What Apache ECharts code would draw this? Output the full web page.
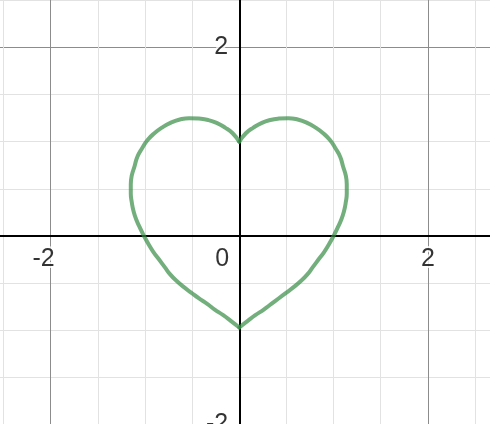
<!DOCTYPE html>
<html>
<head>
<meta charset="utf-8">
<script src="https://cdn.jsdelivr.net/npm/echarts@6/dist/echarts.min.js"></script>
<style>
html,body{margin:0;padding:0;background:#fff;}
#chart{width:490px;height:424px;}
</style>
</head>
<body>
<div id="chart"></div>
<script>
// Heart curve: right half (top cusp -> bottom cusp)
var rightX = [0, 0.07, 0.15, 0.24, 0.33, 0.42, 0.52, 0.62, 0.72, 0.81, 0.89, 0.96, 1.02, 1.07, 1.10, 1.13, 1.14, 1.14, 1.13, 1.11, 1.08, 1.04, 1.00, 0.95, 0.90, 0.84, 0.78, 0.72, 0.65, 0.58, 0.50, 0.42, 0.34, 0.26, 0.17, 0.09, 0];
var rightY = [1.00, 1.09, 1.15, 1.20, 1.23, 1.245, 1.25, 1.235, 1.20, 1.15, 1.09, 1.02, 0.93, 0.84, 0.74, 0.64, 0.55, 0.45, 0.36, 0.26, 0.17, 0.08, 0.00, -0.09, -0.17, -0.25, -0.33, -0.41, -0.48, -0.54, -0.60, -0.66, -0.72, -0.78, -0.84, -0.90, -0.97];
// left half (top cusp -> bottom cusp)
var leftX = [0, -0.07, -0.15, -0.24, -0.33, -0.43, -0.53, -0.63, -0.73, -0.82, -0.90, -0.97, -1.03, -1.08, -1.11, -1.14, -1.15, -1.15, -1.14, -1.12, -1.09, -1.05, -1.01, -0.96, -0.91, -0.85, -0.79, -0.73, -0.66, -0.59, -0.51, -0.43, -0.34, -0.26, -0.17, -0.09, 0];
var leftY = [1.00, 1.09, 1.15, 1.20, 1.23, 1.245, 1.25, 1.235, 1.20, 1.15, 1.09, 1.02, 0.93, 0.84, 0.74, 0.64, 0.55, 0.45, 0.36, 0.26, 0.17, 0.08, 0.00, -0.09, -0.17, -0.25, -0.33, -0.41, -0.48, -0.54, -0.60, -0.66, -0.72, -0.78, -0.84, -0.90, -0.97];
// tick labels shown
var xTickLabels = [-2, 2];
var yTickLabels = [2, -2];
var originLabel = 0;

function pairs(xs, ys){ var out=[]; for (var i=0;i<xs.length;i++) out.push([xs[i], ys[i]]); return out; }

var chart = echarts.init(document.getElementById('chart'), null, {renderer:'canvas'});
var FONT = '"Liberation Sans", Arial, sans-serif';
var FS = 25;
var labelBase = {show:true, fontSize:FS, fontFamily:FONT, color:'#000', textBorderColor:'#fff', textBorderWidth:4,
                 formatter:function(p){ return String(p.data.text); }};

var labelData = [];
xTickLabels.forEach(function(v){
  labelData.push({value:[v, 0], text:v, label:{position:'bottom', distance:11, offset:[v < 0 ? -7 : 0, 0]}});
});
yTickLabels.forEach(function(v){
  labelData.push({value:[0, v], text:v, label:{position:'left', distance:11}});
});
labelData.push({value:[originLabel, originLabel], text:originLabel, label:{position:'bottom', distance:11, offset:[-17, 0]}});

var option = {
  backgroundColor:'#fff',
  animation:false,
  grid:{left:-138, right:-126.5, top:-141.2, bottom:-189.2, containLabel:false, outerBoundsMode:'none'},
  xAxis:{
    type:'value', min:-4, max:4, interval:2,
    axisLine:{show:true, onZero:true, lineStyle:{color:'#000', width:2}},
    axisTick:{show:false},
    axisLabel:{show:false},
    minorTick:{show:false, splitNumber:4},
    splitLine:{show:true, lineStyle:{color:'#8c8c8c', width:1}},
    minorSplitLine:{show:true, lineStyle:{color:'#e2e2e2', width:1}}
  },
  yAxis:{
    type:'value', min:-4, max:4, interval:2,
    axisLine:{show:true, onZero:true, lineStyle:{color:'#000', width:2}},
    axisTick:{show:false},
    axisLabel:{show:false},
    minorTick:{show:false, splitNumber:4},
    splitLine:{show:true, lineStyle:{color:'#8c8c8c', width:1}},
    minorSplitLine:{show:true, lineStyle:{color:'#e2e2e2', width:1}}
  },
  series:[
    {type:'line', data:pairs(rightX, rightY), smooth:0.5, showSymbol:false, symbol:'none',
     lineStyle:{color:'#388c46', width:4, opacity:0.7, cap:'round', join:'round'}, z:5},
    {type:'line', data:pairs(leftX, leftY), smooth:0.5, showSymbol:false, symbol:'none',
     lineStyle:{color:'#388c46', width:4, opacity:0.7, cap:'round', join:'round'}, z:5},
    {type:'scatter', data:labelData, symbolSize:0, silent:true, z:10, label:labelBase}
  ]
};
chart.setOption(option);
</script>
</body>
</html>
